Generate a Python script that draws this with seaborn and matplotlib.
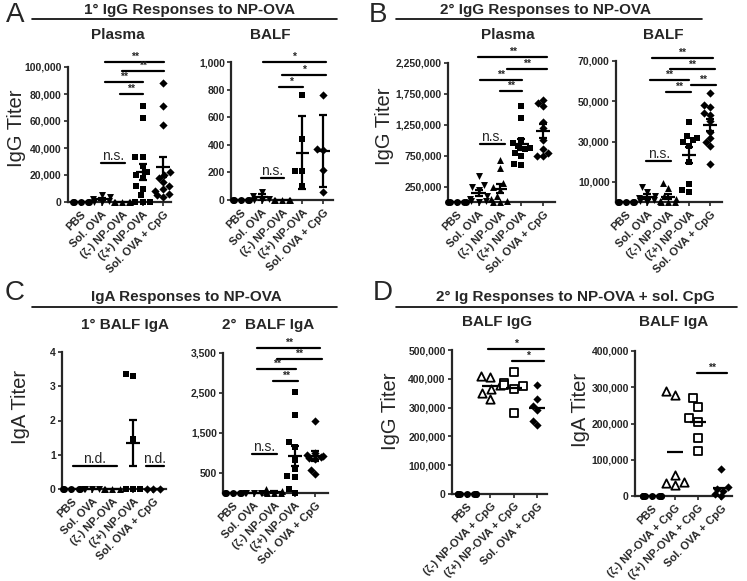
"""Recreate the NP-OVA antibody titer figure (panels A-D)."""

import matplotlib

matplotlib.use("Agg")

import matplotlib.pyplot as plt
import numpy as np
import seaborn as sns
from matplotlib.lines import Line2D
from matplotlib.ticker import StrMethodFormatter

W, H = 747, 581

GROUPS = ["PBS", "Sol. OVA", "(ζ-) NP-OVA", "(ζ+) NP-OVA", "Sol. OVA + CpG"]
MARKERS = ["o", "v", "^", "s", "D"]
GROUPS_D = ["PBS", "(ζ-) NP-OVA + CpG", "(ζ+) NP-OVA + CpG", "Sol. OVA + CpG"]
MARKERS_D = ["o", "^", "s", "D"]
OPEN_D = [False, True, True, False]

# A: primary IgG
A_PLASMA = [
    [0, 0, 0, 0, 0],
    [5500, 4000, 2500, 1000, 0, 0],
    [0, 0, 0, 0, 0],
    [71000, 62000, 33000, 33000, 27000, 22000, 20000, 18000, 12000, 10000, 5000, 0, 0, 0],
    [88000, 71000, 57000, 22000, 20000, 18000, 15000, 12000, 10000, 8000, 6000, 5000, 4000],
]
A_PLASMA_TICKS = [0, 20000, 40000, 60000, 80000, 100000]
A_PLASMA_BARS = [
    (1.15, 4.05, 104000, "**"),
    (2.0, 4.05, 97000, "**"),
    (1.15, 3.0, 89000, "**"),
    (1.9, 3.0, 80000, "**"),
    (0.95, 2.15, 29000, "n.s."),
]

A_BALF = [
    [0, 0, 0, 0, 0],
    [60, 30, 10, 0, 0],
    [0, 0, 0, 0, 0],
    [760, 440, 210, 210, 100],
    [760, 370, 360, 220, 60],
]
A_BALF_TICKS = [0, 200, 400, 600, 800, 1000]
A_BALF_BARS = [
    (1.07, 4.15, 1000, "*"),
    (2.0, 4.15, 906, "*"),
    (1.85, 3.02, 819, "*"),
    (0.98, 2.1, 160, "n.s."),
]

# B: secondary IgG
B_PLASMA = [
    [0, 0, 0, 0, 0],
    [420000, 280000, 250000, 200000, 100000, 50000, 20000, 10000, 0],
    [680000, 550000, 300000, 250000, 200000, 100000, 50000, 20000, 0, 0],
    [1560000, 1360000, 1000000, 950000, 900000, 880000, 850000, 800000, 750000, 620000, 600000],
    [1650000, 1600000, 1550000, 1300000, 1200000, 1000000, 850000, 800000, 750000, 750000],
]
B_PLASMA_TICKS = [250000, 750000, 1250000, 1750000, 2250000]
B_PLASMA_BARS = [
    (0.98, 4.19, 2350000, "**"),
    (2.33, 4.19, 2150000, "**"),
    (1.07, 3.02, 1980000, "**"),
    (2.0, 3.02, 1800000, "**"),
    (1.07, 2.23, 940000, "n.s."),
]

B_BALF = [
    [0, 0, 0, 0, 0],
    [7500, 5000, 3000, 2000, 1000, 500, 0],
    [9200, 6800, 3000, 1500, 500, 0, 0, 0],
    [39500, 33000, 32000, 31000, 30000, 28000, 20000, 8800, 6000, 5000],
    [54000, 48000, 47000, 44000, 43000, 40000, 35000, 32000, 30000, 28000, 19000],
]
B_BALF_TICKS = [10000, 30000, 50000, 70000]
B_BALF_BARS = [
    (1.22, 4.13, 71600, "**"),
    (2.07, 4.23, 65800, "**"),
    (1.13, 3.0, 60500, "**"),
    (3.1, 4.27, 58000, "**"),
    (1.92, 3.1, 54700, "**"),
    (0.94, 2.16, 20300, "n.s."),
]

# C: IgA
C_PRIMARY = [
    [0, 0, 0, 0, 0],
    [0, 0, 0, 0],
    [0, 0, 0, 0],
    [3.35, 3.3, 1.45, 0, 0, 0],
    [0, 0, 0],
]
C_PRIMARY_TICKS = [0, 1, 2, 3, 4]
C_PRIMARY_BARS = [
    (0.07, 2.22, 0.66, "n.d."),
    (3.63, 4.51, 0.66, "n.d."),
]

C_SECONDARY = [
    [0, 0, 0, 0, 0],
    [0, 0, 0, 0, 0],
    [100, 50, 20, 0, 0, 0],
    [2530, 1960, 1270, 1150, 830, 600, 420, 400, 100, 0],
    [1790, 1000, 950, 920, 900, 880, 850, 570, 470],
]
C_SECONDARY_TICKS = [500, 1500, 2500, 3500]
C_SECONDARY_BARS = [
    (1.17, 4.24, 3633, "**"),
    (2.14, 4.34, 3358, "**"),
    (1.17, 3.07, 3092, "**"),
    (1.95, 3.17, 2800, "**"),
    (0.93, 2.14, 983, "n.s."),
]

# D: secondary Ig with soluble CpG
D_IGG = [
    [0, 0, 0, 0, 0, 0, 0, 0],
    [410000, 405000, 380000, 365000, 350000, 330000],
    [425000, 385000, 380000, 375000, 365000, 280000],
    [380000, 330000, 305000, 290000, 255000, 240000],
]
D_IGG_TICKS = [0, 100000, 200000, 300000, 400000, 500000]
D_IGG_BARS = [
    (0.9, 3.3, 504000, "*"),
    (1.93, 3.3, 463000, "*"),
]

D_IGA = [
    [0, 0, 0, 0, 0, 0, 0, 0],
    [290000, 280000, 58000, 40000, 35000, 30000],
    [270000, 245000, 215000, 205000, 160000, 125000],
    [75000, 25000, 20000, 15000, 5000, 0],
]
D_IGA_TICKS = [0, 100000, 200000, 300000, 400000]
D_IGA_BARS = [
    (1.96, 3.26, 339000, "**"),
]


def px_rect(left, right, top, bottom):
    """Axes rectangle from pixel edges of the reference."""
    return [left / W, 1 - bottom / H, (right - left) / W, (bottom - top) / H]


def ftext(fig, x, y, s, **kw):
    fig.text(x / W, 1 - y / H, s, ha="center", va="center", **kw)


def fline(fig, x1, x2, y):
    fig.add_artist(Line2D([x1 / W, x2 / W], [1 - y / H, 1 - y / H],
                          color="black", lw=1.2, transform=fig.transFigure))


def draw_titers(ax, groups, values, markers, yticks, xlim, bars,
                error="sem", open_flags=None):
    for i, (name, vals) in enumerate(zip(groups, values)):
        vals = np.asarray(vals, dtype=float)
        hollow = open_flags is not None and open_flags[i]
        if hollow:
            sns.swarmplot(x=[name] * len(vals), y=vals, order=groups,
                          marker=markers[i], size=6, color="white",
                          edgecolor="black", linewidth=1.3, ax=ax)
        else:
            size = 4.2 if markers[i] == "D" else 5
            sns.swarmplot(x=[name] * len(vals), y=vals, order=groups,
                          marker=markers[i], size=size, color="black",
                          linewidth=0, ax=ax)
        mean = vals.mean()
        half = 0.34
        ax.hlines(mean, i - half, i + half, color="black", lw=1.6, zorder=5)
        if error and len(vals) > 1 and mean > 0:
            spread = vals.std(ddof=1)
            if error == "sem":
                spread /= np.sqrt(len(vals))
            ax.errorbar(i, mean, yerr=spread, fmt="none", ecolor="black",
                        elinewidth=1.6, capsize=3, capthick=1.6, zorder=5)
    for coll in ax.collections:
        coll.set_clip_on(False)
        coll.set_zorder(4)

    ax.set_xlim(*xlim)
    ax.set_ylim(0, yticks[-1])
    ax.set_yticks(yticks)
    ax.yaxis.set_major_formatter(StrMethodFormatter("{x:,.0f}"))
    ax.set_xticks(range(len(groups)))
    ax.set_xticklabels(groups, rotation=45, ha="right", rotation_mode="anchor",
                       fontsize=8, fontweight="bold")
    for lbl in ax.get_yticklabels():
        lbl.set_fontweight("bold")
        lbl.set_fontsize(7.5)
    ax.tick_params(axis="y", length=3, width=1.2, pad=1.5)
    ax.tick_params(axis="x", length=3, width=1.2, pad=2)
    sns.despine(ax=ax)
    for side in ("left", "bottom"):
        ax.spines[side].set_linewidth(1.6)
    ax.set_xlabel("")
    ax.set_ylabel("")

    for x1, x2, y, label in bars:
        ax.plot([x1, x2], [y, y], color="black", lw=1.6, clip_on=False)
        if label.startswith("n."):
            ax.text((x1 + x2) / 2, y, label, ha="center", va="bottom",
                    fontsize=10, clip_on=False)
        else:
            ax.text((x1 + x2) / 2, y, label, ha="center", va="bottom",
                    fontsize=7.5, fontweight="bold", clip_on=False)


sns.set_style("ticks")
plt.rcParams["font.family"] = ["Liberation Sans", "DejaVu Sans"]

fig = plt.figure(figsize=(W / 100, H / 100), dpi=100)

panels = [
    (px_rect(68, 171, 67, 202), GROUPS, A_PLASMA, MARKERS, A_PLASMA_TICKS, (-0.63, 4.37), A_PLASMA_BARS, "sem", None),
    (px_rect(231, 333, 62, 200), GROUPS, A_BALF, MARKERS, A_BALF_TICKS, (-0.49, 4.49), A_BALF_BARS, "sd", None),
    (px_rect(448, 555, 63, 202), GROUPS, B_PLASMA, MARKERS, B_PLASMA_TICKS, (-0.42, 4.56), B_PLASMA_BARS, "sem", None),
    (px_rect(616, 722, 61, 202), GROUPS, B_BALF, MARKERS, B_BALF_TICKS, (-0.48, 4.57), B_BALF_BARS, "sem", None),
    (px_rect(62, 166, 352, 489), GROUPS, C_PRIMARY, MARKERS, C_PRIMARY_TICKS, (-0.46, 4.61), C_PRIMARY_BARS, "sem", None),
    (px_rect(223, 328, 353, 493), GROUPS, C_SECONDARY, MARKERS, C_SECONDARY_TICKS, (-0.49, 4.63), C_SECONDARY_BARS, "sem", None),
    (px_rect(452, 547, 350, 494), GROUPS_D, D_IGG, MARKERS_D, D_IGG_TICKS, (-0.64, 3.43), D_IGG_BARS, None, OPEN_D),
    (px_rect(635, 732, 351, 496), GROUPS_D, D_IGA, MARKERS_D, D_IGA_TICKS, (-0.74, 3.48), D_IGA_BARS, None, OPEN_D),
]
for rect, groups, values, markers, ticks, xlim, bars, error, open_flags in panels:
    ax = fig.add_axes(rect)
    draw_titers(ax, groups, values, markers, ticks, xlim, bars, error, open_flags)

# panel letters, headers and underlines
for letter, x, y in [("A", 15, 15), ("B", 378, 15), ("C", 15, 293), ("D", 383, 293)]:
    ftext(fig, x, y, letter, fontsize=20)

ftext(fig, 190, 10, "1° IgG Responses to NP-OVA", fontsize=11, fontweight="bold")
ftext(fig, 545, 10, "2° IgG Responses to NP-OVA", fontsize=11, fontweight="bold")
ftext(fig, 186, 297, "IgA Responses to NP-OVA", fontsize=11, fontweight="bold")
ftext(fig, 575, 297, "2° Ig Responses to NP-OVA + sol. CpG", fontsize=11, fontweight="bold")
fline(fig, 32, 337, 19)
fline(fig, 396, 702, 19)
fline(fig, 32, 337, 307)
fline(fig, 396, 737, 307)

for x, y, s in [(118, 35, "Plasma"), (270, 35, "BALF"), (508, 35, "Plasma"),
                (663, 35, "BALF"), (125, 325, "1° BALF IgA"), (268, 325, "2°  BALF IgA"),
                (497, 322, "BALF IgG"), (674, 322, "BALF IgA")]:
    ftext(fig, x, y, s, fontsize=11, fontweight="bold")

for x, y, s in [(17, 128, "IgG Titer"), (385, 126, "IgG Titer"), (21, 407, "IgA Titer"),
                (390, 411, "IgG Titer"), (580, 410, "IgA Titer")]:
    ftext(fig, x, y, s, fontsize=14.5, rotation=90)

fig.savefig("out.png", dpi=100, facecolor="white")
plt.close(fig)
